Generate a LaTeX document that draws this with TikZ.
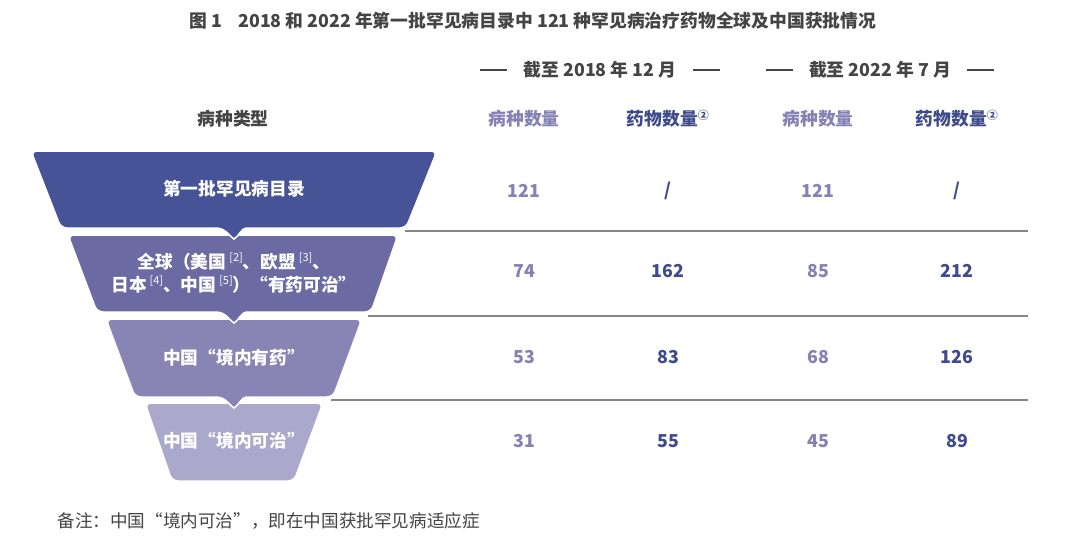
\documentclass[tikz,border=0pt]{standalone}
\usepackage{fontspec}
\setmainfont{Noto Sans CJK SC}
\definecolor{cA}{HTML}{465397}
\definecolor{cB}{HTML}{6B6AA3}
\definecolor{cC}{HTML}{8885B5}
\definecolor{cD}{HTML}{AAA8CB}
\definecolor{lightp}{HTML}{8481B5}
\definecolor{navy}{HTML}{3E4A8C}
\definecolor{darkgray}{HTML}{444444}
\definecolor{rulegray}{HTML}{858585}
\newcommand{\fshape}[8]{%
 \filldraw[fill=#1, draw=white, line width=1.5pt] (#8,#2) [rounded corners=6pt] -- (#5,#2) -- (#7,#3) -- ({#8+18},#3) [sharp corners] .. controls ({#8+8},#3) and ({#8+4},{#3+9}) .. (#8,{#3+11}) .. controls ({#8-4},{#3+9}) and ({#8-8},#3) .. ({#8-18},#3) [rounded corners=6pt] -- (#6,#3) -- (#4,#2) -- cycle;}
\newcommand{\sref}[1]{\raisebox{0.4em}{\fontsize{11}{11}\selectfont\mdseries[#1]}}
\tikzset{
  title/.style={font=\fontsize{17.8}{17.8}\selectfont\bfseries, text=darkgray},
  hdr/.style={font=\fontsize{17.8}{17.8}\selectfont\bfseries, text=darkgray},
  colL/.style={font=\fontsize{17.8}{17.8}\selectfont\bfseries, text=lightp},
  colN/.style={font=\fontsize{17.8}{17.8}\selectfont\bfseries, text=navy},
  numL/.style={font=\fontsize{17.8}{17.8}\selectfont\bfseries, text=lightp},
  numN/.style={font=\fontsize{17.8}{17.8}\selectfont\bfseries, text=navy},
  intext/.style={font=\fontsize{17.7}{23}\selectfont\bfseries, text=white, align=center},
  dashline/.style={draw=darkgray, line width=1.8pt},
  rowrule/.style={draw=rulegray, line width=1.4pt},
  note/.style={font=\fontsize{17.6}{17.6}\selectfont, text=darkgray, anchor=west}
}
\begin{document}
\begin{tikzpicture}[x=1pt,y=-1pt]
\path[use as bounding box, fill=white] (0,0) rectangle (1080,550);
% title
\node[title] (t) at (533,21) {图 1\hspace{0.9em}2018 和 2022 年第一批罕见病目录中 121 种罕见病治疗药物全球及中国获批情况};
% period headers
\node[hdr] (p1) at (600,70) {截至 2018 年 12 月};
\node[hdr] (p2) at (880,70) {截至 2022 年 7 月};
\draw[dashline] ([xshift=-13pt]p1.west) -- ++(-27,0);
\draw[dashline] ([xshift=13pt]p1.east) -- ++(27,0);
\draw[dashline] ([xshift=-13pt]p2.west) -- ++(-27,0);
\draw[dashline] ([xshift=13pt]p2.east) -- ++(27,0);
% column headers
\node[hdr] (h0) at (233,119) {病种类型};
\node[colL] (h1) at (524,119) {病种数量};
\node[colN] (h2) at (668,119) {药物数量\textsuperscript{\fontsize{11}{11}\selectfont ②}};
\node[colL] (h3) at (818,119) {病种数量};
\node[colN] (h4) at (957,119) {药物数量\textsuperscript{\fontsize{11}{11}\selectfont ②}};
% funnel shapes (bottom first so tails overlap)
\filldraw[fill=cD, draw=white, line width=1.5pt, rounded corners=6pt] (145,403) -- (323,403) -- (294,481) -- (172,481) -- cycle;
\fshape{cC}{319}{397}{106}{362}{135}{333}{234}
\fshape{cB}{235}{312}{68}{398}{97}{371}{234}
\fshape{cA}{151}{228}{31}{437}{61}{406}{234}
% shape texts
\node[intext] (s1) at (234,189) {第一批罕见病目录};
\node[intext] (s2) at (234,273) {全球（美国\,\sref{2}、欧盟\,\sref{3}、\\日本\,\sref{4}、中国\,\sref{5}）“有药可治”};
\node[intext] (s3) at (234,358) {中国“境内有药”};
\node[intext] (s4) at (234,441) {中国“境内可治”};
% row rules
\coordinate (r1a) at (405,231); \coordinate (r1b) at (1028,231);
\coordinate (r2a) at (368,316); \coordinate (r2b) at (1028,316);
\coordinate (r3a) at (331,400); \coordinate (r3b) at (1028,400);
\draw[rowrule] (r1a) -- (r1b);
\draw[rowrule] (r2a) -- (r2b);
\draw[rowrule] (r3a) -- (r3b);
% numbers
\node[numL] (a1) at (524,191) {121}; \node[numN] (b1) at (668,191) {/};
\node[numL] (c1) at (818,191) {121}; \node[numN] (d1) at (957,191) {/};
\node[numL] (a2) at (524,271) {74};  \node[numN] (b2) at (668,271) {162};
\node[numL] (c2) at (818,271) {85};  \node[numN] (d2) at (957,271) {212};
\node[numL] (a3) at (524,357) {53};  \node[numN] (b3) at (668,357) {83};
\node[numL] (c3) at (818,357) {68};  \node[numN] (d3) at (957,357) {126};
\node[numL] (a4) at (524,441) {31};  \node[numN] (b4) at (668,441) {55};
\node[numL] (c4) at (818,441) {45};  \node[numN] (d4) at (957,441) {89};
% footnote
\node[note] (fn) at (54,521) {备注：中国“境内可治”，即在中国获批罕见病适应症};
\end{tikzpicture}
\end{document}
